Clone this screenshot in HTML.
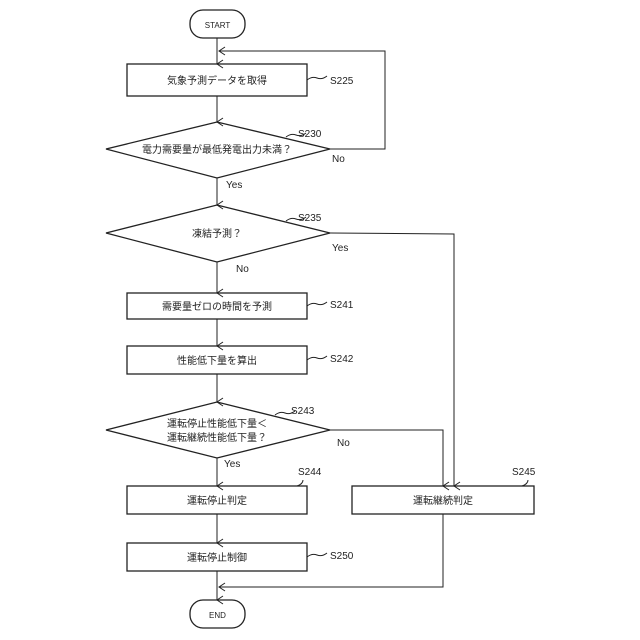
<!DOCTYPE html>
<html><head><meta charset="utf-8"><style>html,body{margin:0;padding:0;background:#fff}svg{display:block}text{font-family:"Liberation Sans","Noto Sans CJK JP",sans-serif;fill:#222}</style></head>
<body>
<svg width="640" height="640" viewBox="0 0 640 640" xmlns="http://www.w3.org/2000/svg">
<defs><marker id="a" markerWidth="10" markerHeight="10" refX="5" refY="8" orient="auto" markerUnits="userSpaceOnUse"><path d="M1,2 L5,8 L9,2" fill="none" stroke="#222" stroke-width="1"/></marker>
<marker id="l" markerWidth="10" markerHeight="10" refX="8" refY="5" orient="auto-start-reverse" markerUnits="userSpaceOnUse"><path d="M2,1 L8,5 L2,9" fill="none" stroke="#222" stroke-width="1"/></marker></defs>
<g fill="none" stroke="#222" stroke-width="1.3">
<rect x="190" y="10" width="55" height="28" rx="13"/>
<rect x="190" y="600" width="55" height="28" rx="13"/>
<rect x="127" y="64" width="180" height="32"/>
<rect x="127" y="293" width="180" height="26"/>
<rect x="127" y="346" width="180" height="28"/>
<rect x="127" y="486" width="180" height="28"/>
<rect x="352" y="486" width="182" height="28"/>
<rect x="127" y="543" width="180" height="28"/>
<polygon points="106,149 217,122 330,149 217,178"/>
<polygon points="106,233 217,205 330,233 217,262"/>
<polygon points="106,430 217,402 330,430 217,458"/>
</g>
<g fill="none" stroke="#222" stroke-width="1">
<line x1="217" y1="38" x2="217" y2="64" marker-end="url(#a)"/>
<polyline points="330,149 385,149 385,51 219,51" marker-end="url(#l)"/>
<line x1="217" y1="96" x2="217" y2="122" marker-end="url(#a)"/>
<line x1="217" y1="178" x2="217" y2="205" marker-end="url(#a)"/>
<line x1="217" y1="262" x2="217" y2="293" marker-end="url(#a)"/>
<line x1="217" y1="319" x2="217" y2="346" marker-end="url(#a)"/>
<line x1="217" y1="374" x2="217" y2="402" marker-end="url(#a)"/>
<line x1="217" y1="458" x2="217" y2="486" marker-end="url(#a)"/>
<line x1="217" y1="514" x2="217" y2="543" marker-end="url(#a)"/>
<line x1="217" y1="571" x2="217" y2="600" marker-end="url(#a)"/>
<polyline points="330,233 454,234 454,486" marker-end="url(#a)"/>
<polyline points="330,430 443,430 443,486" marker-end="url(#a)"/>
<polyline points="443,514 443,587 219,587" marker-end="url(#l)"/>
<path d="M307,80 q5,-4 10,-2 t10,-2"/>
<path d="M286,137 q5,-4 10,-2 t10,-2"/>
<path d="M286,221 q5,-4 10,-2 t10,-2"/>
<path d="M307,306 q5,-4 10,-2 t10,-2"/>
<path d="M307,360 q5,-4 10,-2 t10,-2"/>
<path d="M275,415 q5,-4 10,-2 t10,-2"/>
<path d="M297,486 q6,-2 6,-6"/>
<path d="M522,486 q6,-2 6,-6"/>
<path d="M307,557 q5,-4 10,-2 t10,-2"/>
</g>
<g font-size="10" text-anchor="middle">
<text x="217.5" y="28" font-size="8">START</text>
<text x="217.5" y="618" font-size="8">END</text>
<text x="217" y="84">気象予測データを取得</text>
<text x="217" y="153">電力需要量が最低発電出力未満？</text>
<text x="217" y="237">凍結予測？</text>
<text x="217" y="310">需要量ゼロの時間を予測</text>
<text x="217" y="364">性能低下量を算出</text>
<text x="217" y="427">運転停止性能低下量＜</text>
<text x="217" y="441">運転継続性能低下量？</text>
<text x="217" y="504">運転停止判定</text>
<text x="443" y="504">運転継続判定</text>
<text x="217" y="561">運転停止制御</text>
</g>
<g font-size="10">
<text x="330" y="84">S225</text>
<text x="298" y="137">S230</text>
<text x="298" y="221">S235</text>
<text x="330" y="308">S241</text>
<text x="330" y="362">S242</text>
<text x="291" y="414">S243</text>
<text x="298" y="475">S244</text>
<text x="512" y="475">S245</text>
<text x="330" y="559">S250</text>
<text x="332" y="162">No</text>
<text x="226" y="188">Yes</text>
<text x="332" y="251">Yes</text>
<text x="236" y="272">No</text>
<text x="337" y="446">No</text>
<text x="224" y="467">Yes</text>
</g>
</svg>
</body></html>
